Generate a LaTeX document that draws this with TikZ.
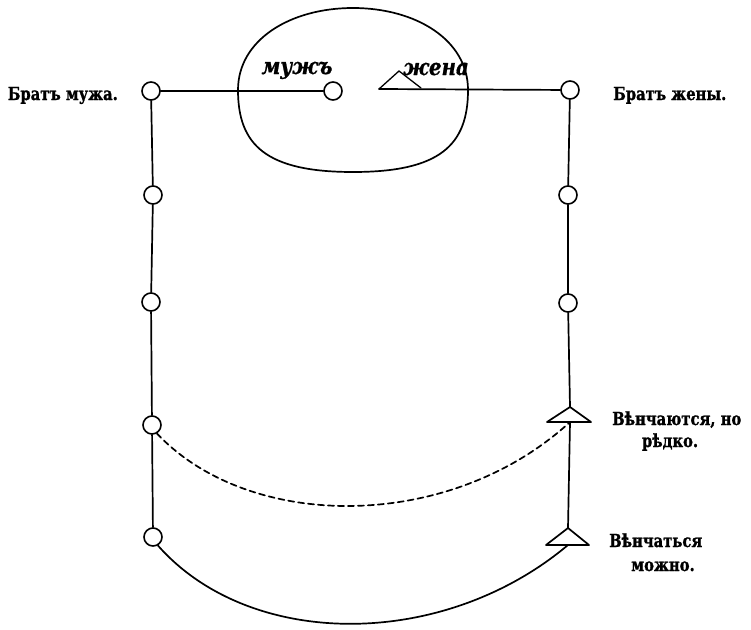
\documentclass[tikz,border=0pt]{standalone}
\usepackage{fontspec}
\usetikzlibrary{calc}
\setmainfont{DejaVu Serif}
\newfontfamily\oldlbl[FakeStretch=0.82,FakeBold=1.2]{DejaVu Serif Bold}
\newfontfamily\oldital[FakeStretch=0.86,FakeBold=0.8]{DejaVu Serif Bold Italic}
\begin{document}
\begin{tikzpicture}[x=1pt,y=-1pt,
  ln/.style={line width=1.7pt,line cap=round},
  kin/.style={circle,draw,line width=1.6pt,minimum size=18pt,inner sep=0pt,fill=white},
  lbl/.style={font=\oldlbl\fontsize{18}{20}\selectfont,inner sep=0pt},
  spouse/.style={font=\oldital\fontsize{23}{26}\selectfont,inner sep=0pt}]
\useasboundingbox (0,0) rectangle (751,629);

% marriage oval
\draw[ln] (238,90) .. controls (238,40) and (290,8) .. (353,8)
  .. controls (416,8) and (468,40) .. (468,90)
  .. controls (468,145) and (440,172) .. (353,172)
  .. controls (266,172) and (238,145) .. (238,90) -- cycle;

% left column (husband's side)
\node[kin] (l1) at (151,91) {};
\node[kin] (l2) at (153,195) {};
\node[kin] (l3) at (151,302) {};
\node[kin] (l4) at (152,425) {};
\node[kin] (l5) at (153,537) {};
% husband
\node[kin] (h) at (333,91) {};
% wife
\coordinate (w) at (379,89);
\coordinate (wa) at (399,71);
\coordinate (wr) at (421,88);
% right column (wife's side)
\node[kin] (r1) at (570,90) {};
\node[kin] (r2) at (568,195) {};
\node[kin] (r3) at (568,303) {};
\coordinate (t1a) at (570,407);
\coordinate (t1b) at (570,422);
\coordinate (t2a) at (568,528);
\coordinate (t2b) at (568,545);

\draw[ln] (l1) -- (h);
\draw[ln] (w) -- (r1);
\draw[ln,line width=1.3pt] (w) -- (wa) -- (wr);

\draw[ln] (l1) -- (l2) -- (l3) -- (l4) -- (l5);
\draw[ln] (r1) -- (r2) -- (r3) -- (t1a);
\draw[ln] (t1b) -- (t2a);

% triangles
\draw[ln,line join=round] (t1a) -- ($(t1b)+(-23,0)$) -- ($(t1b)+(21,0)$) -- cycle;
\draw[ln,line join=round] (t2a) -- ($(t2b)+(-22,0)$) -- ($(t2b)+(21,0)$) -- cycle;

% marriage arcs
\draw[ln,dashed,dash pattern=on 6pt off 4pt] (l4.-60) .. controls (250,532) and (450,532) .. (t1b);
\draw[ln] (l5.-60) .. controls (250,650) and (443,650) .. (t2b);

% texts
\node[spouse,anchor=base] (tm) at (297,74) {мужъ};
\node[spouse,anchor=base] (tw) at (436,75) {жена};
\node[lbl,anchor=base east] (bm) at (118,100) {Братъ мужа.};
\node[lbl,anchor=base west] (bw) at (613,100) {Братъ жены.};
\node[lbl,anchor=base west] (v1) at (612,425) {Вѣнчаются, но};
\node[lbl,anchor=base] (v1b) at (670,447) {рѣдко.};
\node[lbl,anchor=base west] (v2) at (609,547) {Вѣнчаться};
\node[lbl,anchor=base] (v2b) at (663,571) {можно.};
\end{tikzpicture}
\end{document}
